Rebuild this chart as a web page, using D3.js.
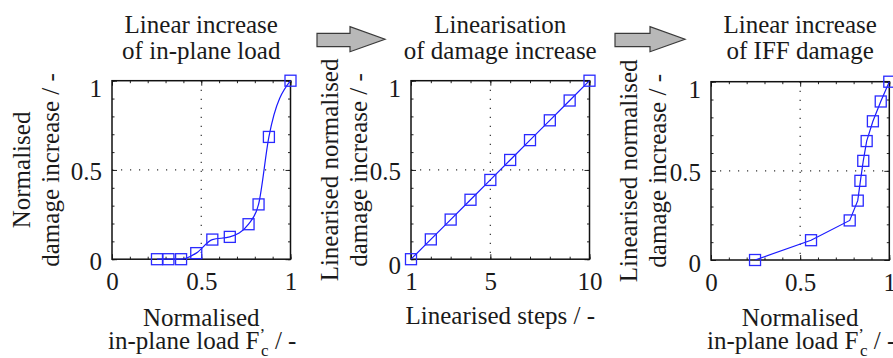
<!DOCTYPE html>
<html><head><meta charset="utf-8">
<script src="https://cdn.jsdelivr.net/npm/d3@7"></script>
<style>
body{margin:0;background:#fff;overflow:hidden}
text{font-family:"Liberation Serif","Times New Roman",serif;fill:#1a1a1a}
</style>
</head><body><svg id="c" width="893" height="358"></svg>
<script>
// ---- data ----
const loadX1   = [0.252, 0.316, 0.387, 0.472, 0.562, 0.660, 0.765, 0.821, 0.879, 1.0];
const damageY1 = [0, 0, 0, 0.034, 0.110, 0.125, 0.196, 0.307, 0.685, 1.0];
const stepsX2  = [1, 2, 3, 4, 5, 6, 7, 8, 9, 10];
const linY2    = [0, 0.111, 0.222, 0.333, 0.444, 0.556, 0.667, 0.778, 0.889, 1.0];
const loadX3   = [0.247, 0.561, 0.778, 0.823, 0.838, 0.854, 0.873, 0.908, 0.952, 1.0];
const linY3    = [0, 0.111, 0.222, 0.333, 0.444, 0.556, 0.667, 0.778, 0.889, 1.0];
const loadTicks  = [0, 0.5, 1];
const stepTicks  = [1, 5, 10];
const yTicks     = [0, 0.5, 1];
const titles = [["Linear increase","of in-plane load"],["Linearisation","of damage increase"],["Linear increase","of IFF damage"]];
const yLabels = [["Normalised","damage increase / -"],["Linearised normalised","damage increase / -"],["Linearised normalised","damage increase / -"]];

const svg = d3.select("#c");
svg.append("rect").attr("width",893).attr("height",358).attr("fill","#fff");
const FS = 25;

const panels = [
  {left:112, top:80.7, size:178.5, xd:[0,1], xt:loadTicks, minor:d3.range(0,1.01,0.1), xs:loadX1, ys:damageY1,
   curve:d3.curveMonotoneX, title:titles[0], ylab:yLabels[0], ylabX:[29.5,58.5], xlab:"load", yOff:[10,10,16]},
  {left:411, top:80.7, size:178.5, xd:[1,10], xt:stepTicks, minor:d3.range(1,10.01,1), xs:stepsX2, ys:linY2,
   curve:d3.curveLinear, title:titles[1], ylab:yLabels[1], ylabX:[338,367], xlab:"steps", yOff:[14,10,16]},
  {left:711, top:81.7, size:178.3, xd:[0,1], xt:loadTicks, minor:d3.range(0,1.01,0.1), xs:loadX3, ys:linY3,
   curve:d3.curveLinear, title:titles[2], ylab:yLabels[2], ylabX:[636.5,666], xlab:"load", yOff:[11,10,16]}
];

panels.forEach(p => {
  const g = svg.append("g");
  const x = d3.scaleLinear().domain(p.xd).range([p.left, p.left + p.size]);
  const y = d3.scaleLinear().domain([0,1]).range([p.top + p.size, p.top]);
  const bottom = p.top + p.size, right = p.left + p.size;
  const cx = p.left + p.size/2, cy = p.top + p.size/2;

  // grid (dotted) at middle ticks
  g.append("line").attr("x1", x(p.xt[1])).attr("x2", x(p.xt[1])).attr("y1", p.top).attr("y2", bottom)
    .attr("stroke","#333").attr("stroke-width",1.2).attr("stroke-dasharray","1.2,7.8");
  g.append("line").attr("y1", y(0.5)).attr("y2", y(0.5)).attr("x1", p.left).attr("x2", right)
    .attr("stroke","#333").attr("stroke-width",1.2).attr("stroke-dasharray","1.2,7.8");

  // minor ticks
  const styleAxis = sel => { sel.select(".domain").remove(); sel.selectAll("line").attr("stroke","#222").attr("stroke-width",1); };
  g.append("g").attr("transform",`translate(0,${bottom})`).call(d3.axisBottom(x).tickValues(p.minor).tickFormat("").tickSize(-2.5)).call(styleAxis);
  g.append("g").attr("transform",`translate(0,${p.top})`).call(d3.axisTop(x).tickValues(p.minor).tickFormat("").tickSize(-2.5)).call(styleAxis);
  g.append("g").attr("transform",`translate(${p.left},0)`).call(d3.axisLeft(y).tickValues(d3.range(0,1.01,0.1)).tickFormat("").tickSize(-2.5)).call(styleAxis);
  g.append("g").attr("transform",`translate(${right},0)`).call(d3.axisRight(y).tickValues(d3.range(0,1.01,0.1)).tickFormat("").tickSize(-2.5)).call(styleAxis);

  // major axes
  const xa = g.append("g").attr("transform",`translate(0,${bottom})`)
    .call(d3.axisBottom(x).tickValues(p.xt).tickFormat(d3.format("")).tickSize(-5));
  styleAxis(xa);
  xa.selectAll("text").attr("y",31).attr("dy",0).attr("font-size",FS).attr("fill","#1a1a1a")
    .style("font-family",'"Liberation Serif",serif');
  const ya = g.append("g").attr("transform",`translate(${p.left},0)`)
    .call(d3.axisLeft(y).tickValues(yTicks).tickFormat(d3.format("")).tickSize(-5));
  styleAxis(ya);
  ya.selectAll("text").attr("x",-10).attr("dy",(d,i)=>p.yOff[i]).attr("font-size",FS).attr("fill","#1a1a1a")
    .style("font-family",'"Liberation Serif",serif');
  g.append("g").attr("transform",`translate(0,${p.top})`).call(d3.axisTop(x).tickValues(p.xt).tickFormat("").tickSize(-5)).call(styleAxis);
  g.append("g").attr("transform",`translate(${right},0)`).call(d3.axisRight(y).tickValues(yTicks).tickFormat("").tickSize(-5)).call(styleAxis);

  // box
  g.append("rect").attr("x",p.left).attr("y",p.top).attr("width",p.size).attr("height",p.size)
    .attr("fill","none").attr("stroke","#111").attr("stroke-width",1.5);

  // line + markers
  const pts = p.xs.map((v,i)=>[v,p.ys[i]]);
  g.append("path").datum(pts).attr("fill","none").attr("stroke","#1a1aff").attr("stroke-width",1.2)
    .attr("d", d3.line().x(d=>x(d[0])).y(d=>y(d[1])).curve(p.curve));
  const m = 11;
  g.selectAll("rect.mk").data(pts).enter().append("rect").attr("class","mk")
    .attr("x",d=>x(d[0])-m/2).attr("y",d=>y(d[1])-m/2).attr("width",m).attr("height",m)
    .attr("fill","none").attr("stroke","#2a2aff").attr("stroke-width",1.3);

  // title
  g.append("text").attr("x",cx).attr("y",33).attr("text-anchor","middle").attr("font-size",FS).text(p.title[0]);
  g.append("text").attr("x",cx).attr("y",59).attr("text-anchor","middle").attr("font-size",FS).text(p.title[1]);

  // y label
  p.ylab.forEach((t,i)=>{
    g.append("text").attr("transform",`translate(${p.ylabX[i]},${cy})rotate(-90)`)
      .attr("text-anchor","middle").attr("font-size",FS).text(t);
  });

  // x label
  if (p.xlab === "steps") {
    g.append("text").attr("x",cx).attr("y",324).attr("text-anchor","middle").attr("font-size",FS).text("Linearised steps / -");
  } else {
    g.append("text").attr("x",cx).attr("y",326).attr("text-anchor","middle").attr("font-size",FS).text("Normalised");
    const t = g.append("text").attr("x",cx+1).attr("y",349).attr("text-anchor","middle").attr("font-size",FS);
    t.append("tspan").text("in-plane load F");
    t.append("tspan").attr("font-size",17).attr("dy",-9).text("’");
    t.append("tspan").attr("font-size",17).attr("dx",-4).attr("dy",16).text("c");
    t.append("tspan").attr("dy",-7).text(" / -");
  }
});

// process arrows
const arrow = (x0, xb, xt) => `M${x0},33.3 L${xb},33.3 L${xb},26.7 L${xt},39.3 L${xb},51.7 L${xb},46.7 L${x0},46.7 Z`;
[[317,350,385],[615,650,685]].forEach(a=>{
  svg.append("path").attr("d",arrow(...a)).attr("fill","#b8b8b8").attr("stroke","#3a3a3a").attr("stroke-width",1.2);
});
</script>
</body></html>
